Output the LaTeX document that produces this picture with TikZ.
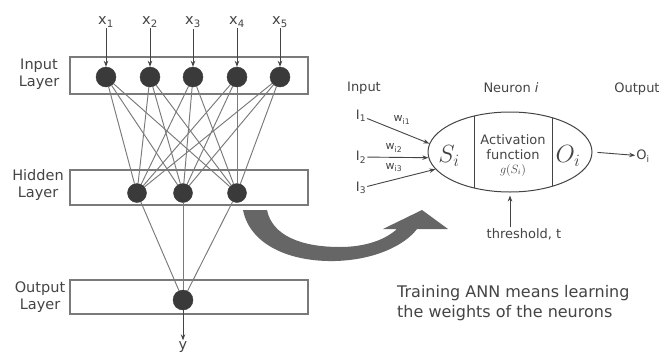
\documentclass[tikz,border=0pt]{standalone}
\usepackage{fontspec}
\setmainfont{DejaVu Sans}
\usetikzlibrary{arrows.meta,shapes.geometric}
\definecolor{txt}{HTML}{444444}
\definecolor{ln}{HTML}{7A7A7A}
\definecolor{nd}{HTML}{3A3A3A}
\definecolor{bigarrow}{HTML}{666666}
\begin{document}
\begin{tikzpicture}[x=1pt,y=-1pt,
  layerbox/.style={draw=ln, line width=1.1pt, minimum width=238pt, inner sep=0pt},
  unit/.style={circle, fill=nd, draw=nd, minimum size=20pt, inner sep=0pt},
  hunit/.style={unit, minimum size=19pt},
  lab/.style={text=txt, font=\fontsize{14.5}{17.5}\selectfont, align=center, inner sep=1pt},
  small/.style={text=txt, font=\fontsize{13}{15}\selectfont, align=center, inner sep=1pt},
  wlab/.style={text=txt, font=\fontsize{11}{13}\selectfont, inner sep=0pt},
  wire/.style={draw=ln, line width=0.95pt},
  arr/.style={draw=txt, line width=0.9pt, -{Stealth[length=6pt,width=4.5pt]}},
  neuronshape/.style={ellipse, draw=txt, line width=1pt, minimum width=164pt, minimum height=80pt, inner sep=0pt}]
\useasboundingbox (0,0) rectangle (662,354);
\fill[white] (0,0) rectangle (662,354);

% layer boxes
\node[layerbox, minimum height=37pt] (inbox) at (189,75.5) {};
\node[layerbox, minimum height=35pt] (hidbox) at (189,187.5) {};
\node[layerbox, minimum height=34pt] (outbox) at (189,297) {};

% layer labels
\node[lab] (inlab) at (39,74) {Input\\Layer};
\node[lab] (hidlab) at (38,185) {Hidden\\Layer};
\node[lab] (outlab) at (40,297) {Output\\Layer};

% input units and labels
\foreach \i/\x in {1/106,2/150,3/193,4/237,5/280}{
  \node[unit] (i\i) at (\x,77) {};
  \node[lab] (x\i) at (\x,22) {x\textsubscript{\i}};
  \draw[arr] (x\i) -- (i\i.north);
}
% hidden units
\foreach \i/\x in {1/137,2/183,3/237}{
  \node[hunit] (h\i) at (\x,193) {};
}
% output unit
\node[unit] (o) at (183,300) {};
\node[lab] (y) at (183,347) {y};

% wires
\foreach \a in {1,...,5}{
  \foreach \b in {1,2,3}{
    \draw[wire] (i\a) -- (h\b);
  }
}
\foreach \b in {1,2,3}{
  \draw[wire] (h\b) -- (o);
}
\draw[arr] (o) -- (y);

% big curved arrow
\fill[bigarrow] (243,210) .. controls (250,245) and (290,262) .. (335,261)
  .. controls (375,260) and (405,245) .. (417,229) -- (448,229) -- (422,210) -- (383,229) -- (397,229)
  .. controls (385,240) and (365,247) .. (340,247)
  .. controls (300,247) and (272,235) .. (267,210) -- cycle;

% neuron
\node[neuronshape] (neuron) at (510,152) {};
\draw[draw=txt, line width=1pt] (474,116.1) -- (474,187.9);
\draw[draw=txt, line width=1pt] (552,117.6) -- (552,186.4);
\node[text=txt, font=\fontsize{25}{28}\selectfont] (S) at (449,156) {$S_i$};
\node[text=txt, font=\fontsize{25}{28}\selectfont] (Oin) at (568,156) {$O_i$};
\node[small] (act) at (513,147) {Activation\\function};
\node[text=txt, font=\fontsize{12}{14}\selectfont] (g) at (513,170) {$g(S_i)$};

\node[small] (hin) at (364,88) {Input};
\node[small] (hneu) at (511,88) {Neuron \textit{i}};
\node[small] (hout) at (637,89) {Output};

\node[small] (I1) at (361,116) {I\textsubscript{1}};
\node[small] (I2) at (361,157) {I\textsubscript{2}};
\node[small] (I3) at (361,188) {I\textsubscript{3}};
\draw[arr] (I1) -- (neuron.174);
\draw[arr] (I2) -- (neuron.184);
\draw[arr] (I3) -- (neuron.193);
\node[wlab] (w1) at (402,120) {w\textsubscript{i1}};
\node[wlab] (w2) at (394,148) {w\textsubscript{i2}};
\node[wlab] (w3) at (394,168) {w\textsubscript{i3}};

\node[small] (Oout) at (643,156) {O\textsubscript{i}};
\draw[arr, shorten <=5pt] (neuron.east) -- (Oout);

\node[small] (thr) at (524,234) {threshold, t};
\draw[arr, shorten >=3pt] (thr.north -| neuron.south) -- (neuron.south);

\node[text=txt, font=\fontsize{16}{20}\selectfont, align=left, anchor=west, inner sep=0pt] (train) at (397,303) {Training ANN means learning\\the weights of the neurons};
\end{tikzpicture}
\end{document}
